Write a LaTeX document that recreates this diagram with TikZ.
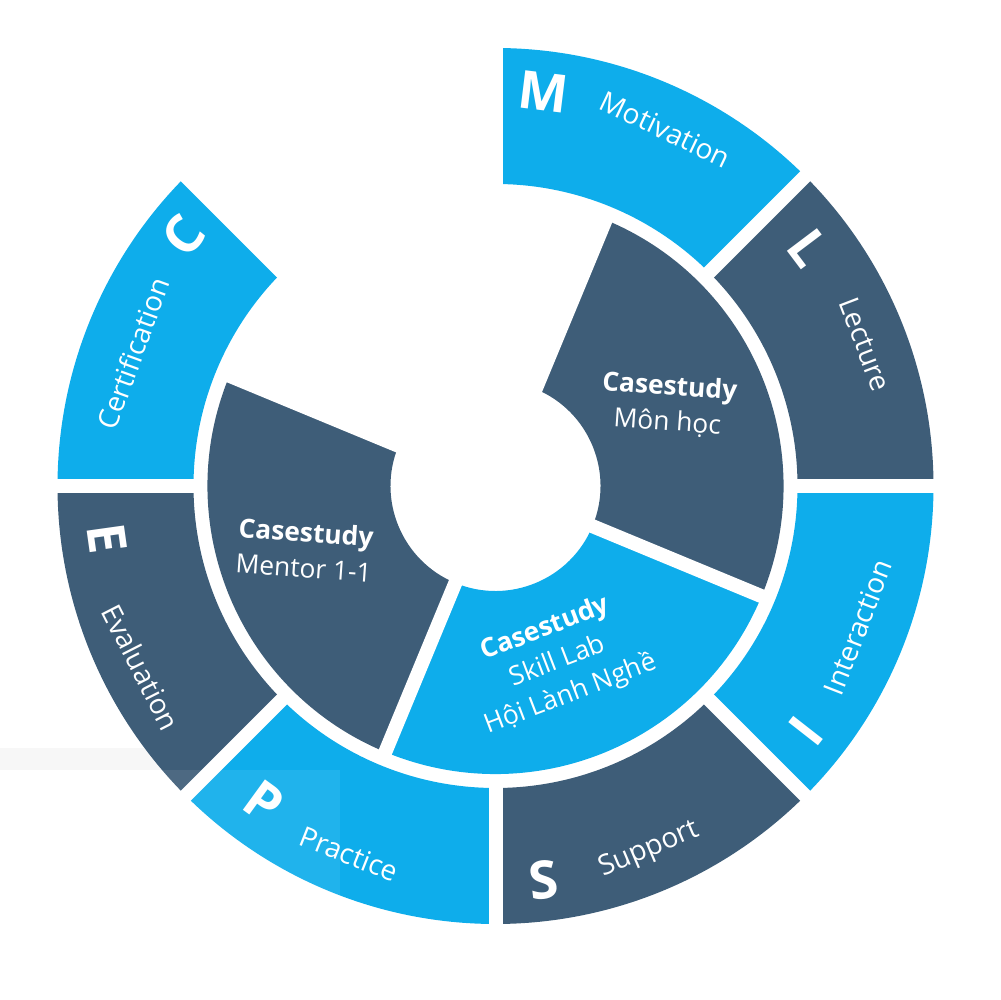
\documentclass[tikz,border=0pt]{standalone}
\usepackage{fontspec}
\setmainfont{Open Sans}
\definecolor{skyseg}{RGB}{14,173,235}
\definecolor{slateseg}{RGB}{62,93,120}
\tikzstyle{gapline}=[draw=white,line width=0.28cm]
\tikzstyle{letter}=[text=white,inner sep=0pt,font=\fontsize{30}{30}\selectfont\bfseries]
\tikzstyle{ringtext}=[text=white,inner sep=0pt,font=\fontsize{16}{16}\selectfont]
\tikzstyle{casetext}=[text=white,align=center,inner sep=0pt,font=\fontsize{15}{20}\selectfont]

\begin{document}
\begin{tikzpicture}[x=0.02cm,y=0.02cm]
  \useasboundingbox (0,0) rectangle (1000,1000);
  \fill[black!3] (0,230) rectangle (340,252);
  \begin{scope}[shift={(495.5,514)}]
    % outer ring
    \fill[skyseg] (45:438) arc[start angle=45,end angle=90,radius=438] -- (90:302) arc[start angle=90,end angle=45,radius=302] -- cycle;
    \fill[slateseg] (0:438) arc[start angle=0,end angle=45,radius=438] -- (45:302) arc[start angle=45,end angle=0,radius=302] -- cycle;
    \fill[skyseg] (-45:438) arc[start angle=-45,end angle=0,radius=438] -- (0:302) arc[start angle=0,end angle=-45,radius=302] -- cycle;
    \fill[slateseg] (-90:438) arc[start angle=-90,end angle=-45,radius=438] -- (-45:302) arc[start angle=-45,end angle=-90,radius=302] -- cycle;
    \fill[skyseg] (-135:438) arc[start angle=-135,end angle=-90,radius=438] -- (-90:302) arc[start angle=-90,end angle=-135,radius=302] -- cycle;
    \fill[slateseg] (180:438) arc[start angle=180,end angle=225,radius=438] -- (225:302) arc[start angle=225,end angle=180,radius=302] -- cycle;
    \fill[skyseg] (135:438) arc[start angle=135,end angle=180,radius=438] -- (180:302) arc[start angle=180,end angle=135,radius=302] -- cycle;
    % inner ring
    \fill[slateseg] (-22.5:288) arc[start angle=-22.5,end angle=67.5,radius=288] -- (67.5:105) arc[start angle=67.5,end angle=-22.5,radius=105] -- cycle;
    \fill[skyseg] (-112.5:288) arc[start angle=-112.5,end angle=-22.5,radius=288] -- (-22.5:105) arc[start angle=-22.5,end angle=-112.5,radius=105] -- cycle;
    \fill[slateseg] (157.5:288) arc[start angle=157.5,end angle=247.5,radius=288] -- (247.5:105) arc[start angle=247.5,end angle=157.5,radius=105] -- cycle;
    % gaps
    \draw[gapline] (90:295) -- (90:450);
    \draw[gapline] (45:295) -- (45:450);
    \draw[gapline] (0:295) -- (0:450);
    \draw[gapline] (-45:295) -- (-45:450);
    \draw[gapline] (-90:295) -- (-90:450);
    \draw[gapline] (-135:295) -- (-135:450);
    \draw[gapline] (180:295) -- (180:450);
    \draw[gapline] (135:295) -- (135:450);
    \draw[gapline] (67.5:90) -- (67.5:295);
    \draw[gapline] (-22.5:90) -- (-22.5:295);
    \draw[gapline] (-112.5:90) -- (-112.5:295);
    \draw[gapline] (157.5:90) -- (157.5:295);
  \end{scope}
  \fill[white,opacity=0.08] (0,0) rectangle (340,230);
  \begin{scope}[shift={(495.5,514)}]
    % letters
    \node[letter,rotate=-7] (M) at (83.1:397) {M};
    \node[letter,rotate=-53] (L) at (37.2:393) {L};
    \node[letter,rotate=52] (I) at (-38.3:396) {I};
    \node[letter,rotate=7] (S) at (-83.1:397) {S};
    \node[letter,rotate=-36] (P) at (-126.3:392) {P};
    \node[letter,rotate=-82] (E) at (-172.3:392) {E};
    \node[letter,rotate=51] (C) at (141.2:400) {C};
    % ring labels
    \node[ringtext,rotate=-25.5] (motivation) at (64.5:395) {Motivation};
    \node[ringtext,rotate=-69] (lecture) at (21:396) {Lecture};
    \node[ringtext,rotate=68.7] (interaction) at (-21.3:389) {Interaction};
    \node[ringtext,rotate=23] (support) at (-67.1:395) {Support};
    \node[ringtext,rotate=-21.7] (practice) at (-111.7:396) {Practice};
    \node[ringtext,rotate=-63] (evaluation) at (-152.9:398) {Evaluation};
    \node[ringtext,rotate=70] (certification) at (159.9:386) {Certification};
    % casestudies
    \node[casetext,rotate=-4] (monhoc) at (173,81) {\textbf{Casestudy}\\Môn học};
    \node[casetext,rotate=-4] (mentor) at (-190.5,-64) {\textbf{Casestudy}\\Mentor 1-1};
    \node[casetext,rotate=21] (skilllab) at (62.5,-176) {\textbf{Casestudy}\\Skill Lab\\Hội Lành Nghề};
  \end{scope}
\end{tikzpicture}
\end{document}
